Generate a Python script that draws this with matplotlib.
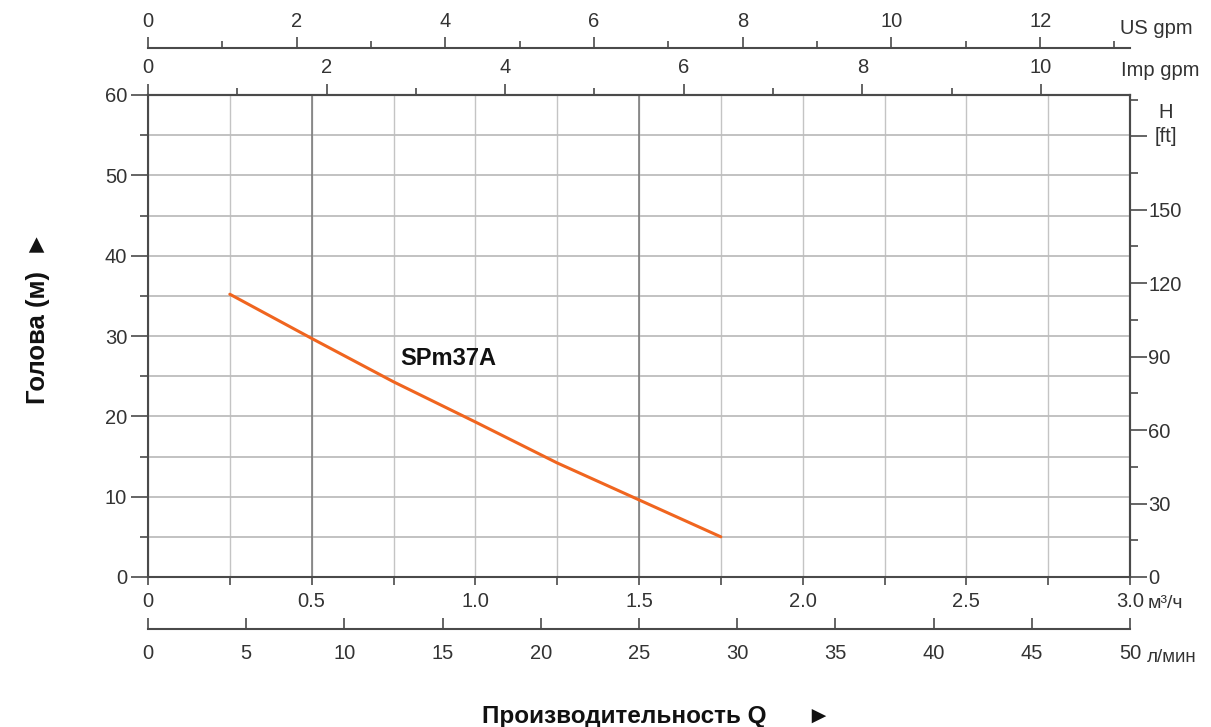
import matplotlib
matplotlib.use("Agg")
import matplotlib.pyplot as plt
import numpy as np
from matplotlib.ticker import FixedLocator, FuncFormatter, MultipleLocator

plt.rcParams["font.family"] = ["Liberation Sans", "DejaVu Sans"]

# pump curve SPm37A
flow_m3h = [0.25, 0.5, 0.75, 1.0, 1.25, 1.5, 1.75]
head_m = [35.2, 29.7, 24.3, 19.3, 14.2, 9.6, 5.0]
curve_name = "SPm37A"

q_labels = ["0", "0.5", "1.0", "1.5", "2.0", "2.5", "3.0"]
ft_labels = ["0", "30", "60", "90", "120", "150", ""]

W, H = 1211, 727
FS = 14.5
fig = plt.figure(figsize=(W / 100, H / 100), dpi=100)
ax = fig.add_axes([148 / W, (H - 577) / H, 982 / W, 482 / H])

SPINE = "#4a4a4a"
TXT = "#333333"
ax.set_xlim(0, 3.0)
ax.set_ylim(0, 60)

# grid
ax.xaxis.set_major_locator(MultipleLocator(0.5))
ax.xaxis.set_minor_locator(MultipleLocator(0.25))
ax.yaxis.set_major_locator(MultipleLocator(10))
ax.yaxis.set_minor_locator(MultipleLocator(5))
ax.grid(which="both", axis="x", color="#c4c4c4", lw=1.0)
ax.grid(which="both", axis="y", color="#bdbdbd", lw=1.3)
for xv in (0.5, 1.5):
    ax.axvline(xv, color="#777777", lw=1.1, zorder=1)
ax.set_axisbelow(True)

ax.plot(flow_m3h, head_m, color="#f0651f", lw=2.2, solid_capstyle="round", zorder=3)
ax.text(0.77, 27.2, curve_name, fontsize=17, fontweight="bold", color="#111111",
        ha="left", va="center")

for s in ax.spines.values():
    s.set_color(SPINE)
    s.set_linewidth(1.5)

# bottom m3/h
ax.xaxis.set_major_formatter(FuncFormatter(lambda v, p: q_labels[int(round(v / 0.5))] if 0 <= round(v / 0.5) < len(q_labels) else ""))
ax.tick_params(axis="x", which="both", direction="out", length=6, width=1.2, color=SPINE,
               labelsize=FS, labelcolor=TXT, pad=5)
ax.tick_params(axis="y", which="major", direction="out", length=12, width=1.2, color=SPINE,
               labelsize=FS, labelcolor=TXT, pad=3)
ax.tick_params(axis="y", which="minor", direction="out", length=6, width=1.2, color=SPINE)
ax.tick_params(top=False, right=False)

# l/min below
lpm = ax.secondary_xaxis(-0.108, functions=(lambda q: q * 50 / 3, lambda l: l * 3 / 50))
lpm.xaxis.set_major_locator(MultipleLocator(5))
lpm.tick_params(direction="in", length=8, width=1.2, color=SPINE, labelsize=FS,
                labelcolor=TXT, pad=11)
lpm.spines["bottom"].set_color(SPINE)
lpm.spines["bottom"].set_linewidth(1.5)

# Imp gpm on top
imp_k = 1000 / 60 / 4.54609
imp = ax.secondary_xaxis("top", functions=(lambda q: q * imp_k, lambda g: g / imp_k))
imp.xaxis.set_major_locator(MultipleLocator(2))
imp.xaxis.set_minor_locator(MultipleLocator(1))
imp.tick_params(which="major", direction="out", length=8, width=1.2, color=SPINE,
                labelsize=FS, labelcolor=TXT, pad=5)
imp.tick_params(which="minor", direction="out", length=5, width=1.2, color=SPINE)
imp.spines["top"].set_color(SPINE)
imp.spines["top"].set_linewidth(1.5)

# US gpm further up
us_k = 1000 / 60 / 3.78541
us = ax.secondary_xaxis(1.0975, functions=(lambda q: q * us_k, lambda g: g / us_k))
us.xaxis.set_major_locator(MultipleLocator(2))
us.xaxis.set_minor_locator(MultipleLocator(1))
us.tick_params(which="major", direction="out", length=8, width=1.2, color=SPINE,
               labelsize=FS, labelcolor=TXT, pad=4)
us.tick_params(which="minor", direction="out", length=5, width=1.2, color=SPINE)
us.spines["top"].set_color(SPINE)
us.spines["top"].set_linewidth(1.5)

# head in ft on the right
ft = ax.secondary_yaxis("right", functions=(lambda m: m / 0.3048, lambda f: f * 0.3048))
ft.yaxis.set_major_locator(FixedLocator(np.arange(0, 181, 30)))
ft.yaxis.set_minor_locator(FixedLocator(np.arange(15, 196, 30)))
ft.yaxis.set_major_formatter(FuncFormatter(lambda v, p: ft_labels[p] if p is not None and p < len(ft_labels) else ""))
ft.tick_params(which="major", direction="out", length=12, width=1.2, color=SPINE,
               labelsize=FS, labelcolor=TXT, pad=1)
ft.tick_params(which="minor", direction="out", length=6, width=1.2, color=SPINE)
ft.spines["right"].set_color(SPINE)
ft.spines["right"].set_linewidth(1.5)


def px_text(x, y, s, **kw):
    fig.text(x / W, 1 - y / H, s, color=TXT, **kw)


# unit labels
px_text(1120, 28, "US gpm", fontsize=FS, ha="left", va="center")
px_text(1121, 70, "Imp gpm", fontsize=FS, ha="left", va="center")
px_text(1148, 604, "м³/ч", fontsize=FS - 0.5, ha="left", va="center")
px_text(1147, 657, "л/мин", fontsize=FS - 1, ha="left", va="center")
px_text(1166, 113, "H", fontsize=FS, ha="center", va="center")
px_text(1166, 137, "[ft]", fontsize=FS, ha="center", va="center")

# axis titles
fig.text(657 / W, 1 - 716 / H, "Производительность Q      ►", fontsize=17.5,
         fontweight="bold", color="#111111", ha="center", va="center")
fig.text(38 / W, 1 - 318 / H, "Голова (м)  ►", fontsize=18.5, fontweight="bold",
         color="#111111", rotation=90, ha="center", va="center")

fig.savefig("out.png", dpi=100, facecolor="white")
